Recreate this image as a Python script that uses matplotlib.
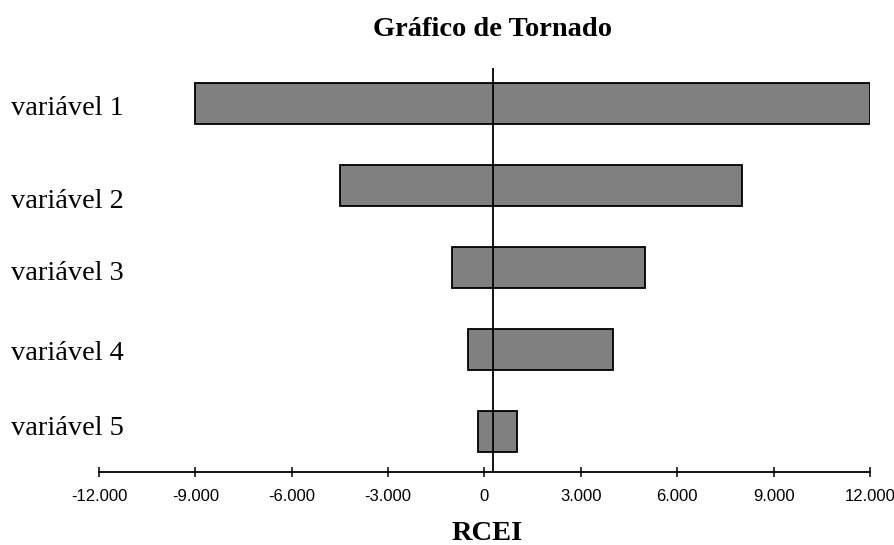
import matplotlib
matplotlib.use('Agg')
import matplotlib.pyplot as plt
from matplotlib.transforms import ScaledTranslation

# tornado chart data (RCEI)
variables = ['variável 1', 'variável 2', 'variável 3', 'variável 4', 'variável 5']
low_values = [-9000, -4500, -1000, -500, -200]
high_values = [12000, 8000, 5000, 4000, 1000]
base_value = 250
xtick_values = [-12000, -9000, -6000, -3000, 0, 3000, 6000, 9000, 12000]
xtick_labels = ['-12.000', '-9.000', '-6.000', '-3.000', '0', '3.000', '6.000', '9.000', '12.000']

# small vertical nudges (in px) of the category labels, as in the original
label_nudge = [2, 13, 3, 1, -6]

serif = ['Liberation Serif', 'DejaVu Serif']
narrow = ['Liberation Sans Narrow', 'Liberation Sans', 'DejaVu Sans']

fig = plt.figure(figsize=(8.95, 5.45), dpi=100)
W, H = 895, 545
ax = fig.add_axes([99 / W, 1 - 472 / H, (870 - 99) / W, (472 - 68) / H])

ypos = list(range(len(variables)))
widths = [h - l for l, h in zip(low_values, high_values)]
ax.barh(ypos, widths, left=low_values, height=0.5, color='#808080',
        edgecolor='black', linewidth=1.3, zorder=2)
ax.axvline(base_value, color='black', linewidth=1.3, zorder=3)

ax.set_xlim(-12000, 12000)
ax.set_ylim(4.49, -0.43)

for s in ['top', 'right', 'left']:
    ax.spines[s].set_visible(False)
ax.spines['bottom'].set_linewidth(1.3)

ax.set_xticks(xtick_values)
ax.set_xticklabels(xtick_labels, family=narrow, fontsize=12)
ax.tick_params(axis='x', direction='inout', length=7, width=1.1, pad=9)

ax.set_yticks(ypos)
ax.set_yticklabels(variables, family=serif, fontsize=20.5)
ax.tick_params(axis='y', length=0, pad=-18)
for lab, dy in zip(ax.get_yticklabels(), label_nudge):
    lab.set_transform(lab.get_transform() + ScaledTranslation(0, -dy / 100, fig.dpi_scale_trans))

fig.text(493 / W, 1 - 30 / H, 'Gráfico de Tornado', family=serif, fontsize=20.5,
         fontweight='bold', ha='center', va='center')
fig.text(487 / W, 1 - 533 / H, 'RCEI', family=serif, fontsize=20.5,
         fontweight='bold', ha='center', va='center')

fig.savefig('out.png', dpi=100)
